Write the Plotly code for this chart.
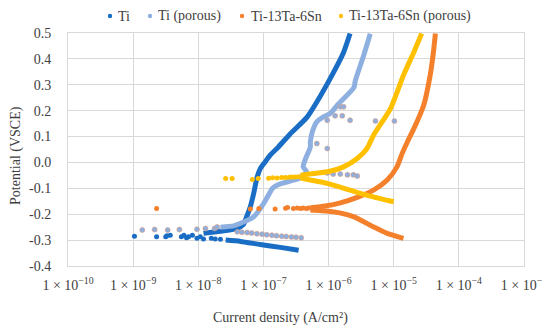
import plotly.graph_objects as go

# ---- data (log10 of current density in A/cm², potential in V vs SCE) ----
# Ti
ti_dense_logi = [-7.92, -7.66, -7.41, -7.31, -7.25, -7.20, -7.15, -7.10, -7.05, -6.98, -6.89, -6.77,
                 -6.59, -6.33, -6.13, -5.93, -5.77, -5.67]
ti_dense_e = [-0.274, -0.266, -0.255, -0.240, -0.205, -0.170, -0.120, -0.060, -0.025, 0.000, 0.030,
              0.060, 0.110, 0.175, 0.255, 0.345, 0.425, 0.498]
ti_cath_logi = [-7.58, -7.35, -7.05, -6.74, -6.46]
ti_cath_e = [-0.300, -0.305, -0.317, -0.328, -0.339]
ti_dots_logi = [-8.98, -8.64, -8.50, -8.48, -8.43, -8.26, -8.22, -8.18, -8.15, -8.09, -8.02, -7.97,
                -7.92, -7.80, -7.74, -7.66]
ti_dots_e = [-0.285, -0.287, -0.287, -0.283, -0.281, -0.287, -0.281, -0.291, -0.287, -0.281, -0.293,
             -0.287, -0.296, -0.293, -0.296, -0.297]

# Ti (porous)
tip_dense_logi = [-7.66, -7.46, -7.35, -7.15, -7.00, -6.92, -6.86, -6.79, -6.69, -6.59, -6.46, -6.39,
                  -6.34, -6.39, -6.36, -6.28, -6.28, -6.25, -6.18, -6.08, -5.97, -5.87, -5.61, -5.59,
                  -5.46, -5.36]
tip_dense_e = [-0.250, -0.245, -0.235, -0.210, -0.160, -0.125, -0.100, -0.088, -0.079, -0.072, -0.062,
               -0.050, -0.035, -0.017, 0.010, 0.060, 0.080, 0.118, 0.157, 0.176, 0.190, 0.220, 0.290,
               0.315, 0.414, 0.497]
tip_dots_logi = [-8.86, -8.67, -8.47, -8.29, -8.02, -7.89, -7.75, -7.71,
                 -7.40, -7.33, -7.25, -7.18, -7.10, -7.02, -6.95, -6.87, -6.80, -6.72, -6.65, -6.57,
                 -6.50, -6.42,
                 -6.02, -5.93, -5.82, -5.71, -5.62, -5.56,
                 -6.18, -6.02, -6.02, -5.67, -5.82, -5.77, -5.90, -5.79, -5.28, -4.99]
tip_dots_e = [-0.261, -0.259, -0.261, -0.259, -0.258, -0.255, -0.255, -0.249,
              -0.268, -0.270, -0.271, -0.273, -0.275, -0.277, -0.279, -0.281, -0.283, -0.285, -0.286,
              -0.288, -0.289, -0.291,
              -0.041, -0.045, -0.045, -0.048, -0.048, -0.052,
              0.073, 0.054, 0.163, 0.163, 0.215, 0.215, 0.180, 0.180, 0.160, 0.160]

# Ti-13Ta-6Sn
tts_up_logi = [-6.28, -6.05, -5.82, -5.56, -5.31, -5.10, -4.95, -4.87, -4.78, -4.69, -4.54, -4.44,
               -4.39, -4.36]
tts_up_e = [-0.175, -0.168, -0.156, -0.135, -0.107, -0.068, -0.017, 0.035, 0.085, 0.131, 0.221, 0.337,
            0.427, 0.498]
tts_down_logi = [-6.28, -5.92, -5.61, -5.31, -5.10, -4.85]
tts_down_e = [-0.184, -0.191, -0.210, -0.249, -0.274, -0.293]
tts_dots_logi = [-8.64, -7.20, -7.07, -6.82, -6.66, -6.63, -6.54, -6.48, -6.43, -6.39, -6.34, -6.31]
tts_dots_e = [-0.178, -0.180, -0.178, -0.180, -0.177, -0.174, -0.178, -0.176, -0.178, -0.176, -0.178,
              -0.176]

# Ti-13Ta-6Sn (porous)
ttsp_up_logi = [-6.43, -6.23, -6.02, -5.77, -5.56, -5.41, -5.31, -5.05, -4.85, -4.69, -4.57]
ttsp_up_e = [-0.049, -0.043, -0.036, -0.017, 0.015, 0.054, 0.105, 0.208, 0.337, 0.427, 0.498]
ttsp_down_logi = [-6.43, -6.02, -5.67, -5.36, -5.00]
ttsp_down_e = [-0.060, -0.081, -0.107, -0.130, -0.152]
ttsp_dots_logi = [-7.58, -7.48, -7.17, -7.08, -6.92, -6.86, -6.79, -6.72, -6.66, -6.60, -6.56, -6.51,
                  -6.46]
ttsp_dots_e = [-0.062, -0.062, -0.066, -0.062, -0.061, -0.059, -0.060, -0.058, -0.058, -0.057, -0.056,
               -0.056, -0.055]

x_tick_exps = [-10, -9, -8, -7, -6, -5, -4, -3]
y_ticks = [-0.4, -0.3, -0.2, -0.1, 0.0, 0.1, 0.2, 0.3, 0.4, 0.5]

names = ["Ti", "Ti (porous)", "Ti-13Ta-6Sn", "Ti-13Ta-6Sn (porous)"]
colors = ["#1A6DC4", "#8EB0E0", "#F5802C", "#FFC000"]

FONT = "Liberation Serif"
TXT = "#404040"

# figure geometry (the page body adds an 8px offset)
W, H = 542, 322
ML, MR, MT, MB = 60, 26, 25, 64
PW, PH = W - ML - MR, H - MT - MB


def pw(v):
    return [10 ** a for a in v]


def px_to_paper_x(x):
    return (x - ML) / PW


def px_to_paper_y(y):
    return (H - MB - y) / PH


fig = go.Figure()

series = [
    (names[0], colors[0], [(ti_dense_logi, ti_dense_e), (ti_cath_logi, ti_cath_e)], (ti_dots_logi, ti_dots_e), None),
    (names[1], colors[1], [(tip_dense_logi, tip_dense_e)], (tip_dots_logi, tip_dots_e), "#D99A80"),
    (names[2], colors[2], [(tts_up_logi, tts_up_e), (tts_down_logi, tts_down_e)], (tts_dots_logi, tts_dots_e), None),
    (names[3], colors[3], [(ttsp_up_logi, ttsp_up_e), (ttsp_down_logi, ttsp_down_e)], (ttsp_dots_logi, ttsp_dots_e), None),
]

for name, col, lines, dots, edge in series:
    for lx, ly in lines:
        fig.add_trace(go.Scatter(
            x=pw(lx), y=ly, mode="lines", line=dict(color=col, width=5, shape="spline", smoothing=0.6),
            showlegend=False, hoverinfo="skip"))
    fig.add_trace(go.Scatter(
        x=pw(dots[0]), y=dots[1], mode="markers", name=name, showlegend=False,
        marker=dict(color=col, size=5,
                    line=dict(color=edge if edge else col, width=0.6 if edge else 0))))

# legend drawn as marker + text in the top margin
legend_marker_px = [102, 142, 234, 333]
legend_text_px = [108, 148, 241, 339]
legend_y_px = 8
for name, col, mx, tx in zip(names, colors, legend_marker_px, legend_text_px):
    fig.add_shape(type="circle", xref="paper", yref="paper",
                  xsizemode="pixel", ysizemode="pixel",
                  xanchor=px_to_paper_x(mx), yanchor=px_to_paper_y(legend_y_px),
                  x0=-2.2, x1=2.2, y0=-2.2, y1=2.2,
                  fillcolor=col, line=dict(width=0))
    fig.add_annotation(text=name, xref="paper", yref="paper",
                       x=px_to_paper_x(tx), y=px_to_paper_y(legend_y_px),
                       xanchor="left", yanchor="middle", showarrow=False,
                       font=dict(family=FONT, size=14, color=TXT))

# axis titles
fig.add_annotation(text="Current density (A/cm²)", xref="paper", yref="paper",
                   x=px_to_paper_x(272), y=px_to_paper_y(310), xanchor="center", yanchor="middle",
                   showarrow=False, font=dict(family=FONT, size=14, color=TXT))
fig.add_annotation(text="Potential (VSCE)", xref="paper", yref="paper", textangle=-90,
                   x=px_to_paper_x(8), y=px_to_paper_y(148), xanchor="center", yanchor="middle",
                   showarrow=False, font=dict(family=FONT, size=14, color=TXT))

fig.update_layout(
    width=W, height=H,
    margin=dict(l=ML, r=MR, t=MT, b=MB, autoexpand=False),
    paper_bgcolor="white", plot_bgcolor="white",
    font=dict(family=FONT, size=14, color=TXT),
    showlegend=False,
    xaxis=dict(type="log", range=[-10, -3],
               tickvals=[10 ** e for e in x_tick_exps],
               ticktext=["1 × 10<sup>−%d</sup>" % (-e) for e in x_tick_exps],
               tickfont=dict(family=FONT, size=14, color=TXT),
               showgrid=True, gridcolor="#D9D9D9", gridwidth=1,
               showline=True, linecolor="#D9D9D9", mirror=True, zeroline=False,
               ticks="", ticklabelstandoff=6),
    yaxis=dict(range=[-0.4, 0.5], tickvals=y_ticks,
               ticktext=["%.1f" % v for v in y_ticks],
               tickfont=dict(family=FONT, size=14, color=TXT),
               showgrid=True, gridcolor="#D9D9D9", gridwidth=1,
               showline=True, linecolor="#D9D9D9", mirror=True, zeroline=False,
               ticks="", ticklabelstandoff=13),
)

fig.write_html("out.html")
